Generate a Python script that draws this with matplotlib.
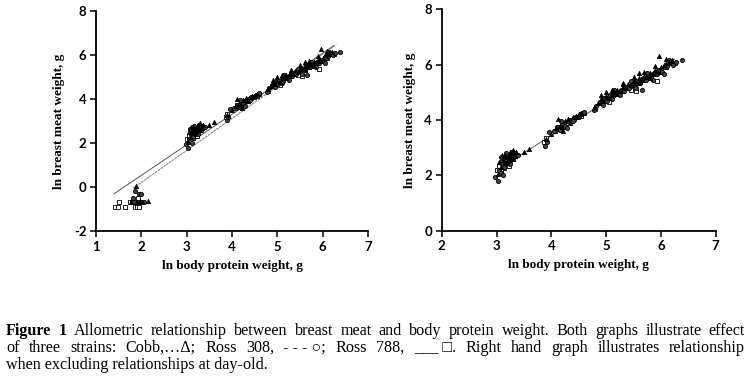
import matplotlib
matplotlib.use('Agg')
import matplotlib.pyplot as plt
from matplotlib.font_manager import FontProperties

# Cobb (triangles)
cobb_x = [1.78, 1.88, 1.90, 1.97, 2.02, 2.15,
          3.02, 3.08, 3.12, 3.15, 3.18, 3.22, 3.25, 3.28, 3.32, 3.35, 3.10, 3.20, 3.30,
          3.15, 3.25, 3.05, 3.30,
          3.50, 3.60, 3.90, 4.00,
          4.08, 4.12, 4.15, 4.20, 4.25, 4.30, 4.35, 4.40, 4.45, 4.50, 4.55, 4.22,
          4.80, 4.85, 4.90, 4.95, 5.00, 5.05, 5.10, 5.15, 5.20, 5.25, 5.30, 5.35, 5.40,
          5.45, 5.50, 5.55, 5.60, 5.65, 5.70, 5.75, 5.80, 5.85, 5.90, 5.95, 6.00, 6.05,
          6.10, 6.15, 6.20, 5.97, 5.60, 5.30, 5.00,
          4.90, 5.10, 5.30, 5.50, 5.70, 5.90, 6.10, 5.20, 5.60, 5.80]
cobb_y = [-0.70, 0.05, -0.70, -0.70, -0.70, -0.65,
          2.05, 2.30, 2.55, 2.45, 2.65, 2.70, 2.60, 2.80, 2.75, 2.85, 2.75, 2.50, 2.60,
          2.75, 2.85, 2.50, 2.90,
          2.85, 2.95, 3.30, 3.50,
          3.70, 4.02, 3.80, 3.75, 3.95, 4.05, 3.90, 4.10, 4.15, 4.20, 4.25, 3.60,
          4.45, 4.60, 4.75, 4.70, 4.85, 4.80, 4.95, 5.00, 5.10, 5.05, 5.20, 5.15, 5.30,
          5.25, 5.40, 5.35, 5.50, 5.45, 5.60, 5.55, 5.70, 5.65, 5.80, 5.75, 5.90, 6.00,
          6.05, 6.10, 6.15, 6.30, 5.70, 5.35, 5.00,
          4.90, 5.10, 5.30, 5.55, 5.75, 5.95, 6.20, 4.95, 5.35, 5.50]

# Ross 308 (circles)
r308_x = [1.82, 1.85, 1.95, 2.00, 1.88, 2.05, 1.83,
          2.98, 3.03, 3.05, 3.08, 3.10, 3.13, 3.15, 3.18, 3.20, 3.23, 3.27, 3.30, 3.33,
          3.36, 3.12, 3.25, 3.40, 3.17, 3.28, 3.08,
          3.88, 3.95, 3.92,
          4.05, 4.10, 4.15, 4.20, 4.25, 4.30, 4.35, 4.40, 4.45, 4.50, 4.55, 4.60, 4.28, 4.18,
          4.78, 4.82, 4.88, 4.92, 4.97, 5.02, 5.07, 5.12, 5.17, 5.22, 5.27, 5.32, 5.37,
          5.42, 5.47, 5.52, 5.57, 5.62, 5.67, 5.72, 5.77, 5.82, 5.87, 5.92, 5.97, 6.02,
          6.07, 6.12, 6.17, 6.22, 6.27, 6.38, 5.65, 5.10,
          4.95, 5.25, 5.55, 5.85, 6.05, 5.15, 5.45, 5.75, 6.15, 4.60]
r308_y = [-0.50, -0.20, -0.30, -0.30, -0.70, -0.70, -0.70,
          1.95, 1.80, 2.20, 2.10, 2.40, 2.30, 2.60, 2.40, 2.70, 2.55, 2.70, 2.65, 2.80,
          2.70, 2.00, 2.40, 2.75, 2.80, 2.85, 2.65,
          3.05, 3.55, 3.20,
          3.60, 3.75, 3.65, 3.85, 3.80, 3.95, 4.00, 3.95, 4.10, 4.15, 4.20, 4.25, 3.70, 3.95,
          4.35, 4.50, 4.65, 4.60, 4.80, 4.70, 4.90, 4.85, 5.00, 4.95, 5.10, 5.05, 5.20,
          5.15, 5.30, 5.25, 5.40, 5.35, 5.50, 5.45, 5.60, 5.55, 5.70, 5.65, 5.80, 5.75,
          5.90, 5.95, 6.05, 6.00, 6.10, 6.15, 5.10, 4.75,
          4.55, 4.90, 5.15, 5.45, 5.65, 5.10, 5.40, 5.70, 6.15, 4.30]

# Ross 788 (squares)
r788_x = [1.42, 1.48, 1.50, 1.65, 1.75, 1.85, 1.90, 1.95, 1.92, 1.95, 1.80, 2.00,
          3.00, 3.05, 3.10, 3.14, 3.17, 3.20, 3.24, 3.28, 3.31, 3.34, 3.08, 3.22,
          3.87, 3.90,
          4.06, 4.12, 4.18, 4.24, 4.30, 4.36, 4.42, 4.48, 4.55, 4.60,
          4.80, 4.90, 5.00, 5.10, 5.20, 5.30, 5.40, 5.50, 5.60, 5.70, 5.80, 5.90, 6.00,
          6.10, 6.20, 5.93, 5.55, 6.25, 5.05, 5.45]
r788_y = [-0.90, -0.90, -0.70, -0.90, -0.70, -0.90, -0.90, -0.90, -0.50, -0.70, -0.70, -0.70,
          2.20, 2.35, 2.50, 2.25, 2.40, 2.60, 2.55, 2.65, 2.60, 2.70, 2.15, 2.35,
          3.20, 3.35,
          3.60, 3.75, 3.75, 3.85, 3.90, 3.95, 4.05, 4.10, 4.15, 4.25,
          4.40, 4.60, 4.75, 4.85, 4.95, 5.05, 5.15, 5.25, 5.35, 5.45, 5.55, 5.65, 5.75,
          5.90, 6.05, 5.40, 5.05, 6.05, 4.65, 5.10]

# regression lines (end points)
left_solid_x = [1.40, 6.25]
left_solid_y = [-0.30, 6.45]
left_dash_x = [1.82, 6.30]
left_dash_y = [-0.05, 6.50]
left_dot_x = [1.86, 6.25]
left_dot_y = [0.00, 6.40]
right_line_x = [3.00, 6.25]
right_line_y = [2.20, 6.20]

left_xticks = [1, 2, 3, 4, 5, 6, 7]
left_yticks = [-2, 0, 2, 4, 6, 8]
right_xticks = [2, 3, 4, 5, 6, 7]
right_yticks = [0, 2, 4, 6, 8]

caption_lines = [
    [('Figure', True), ('1', True)] + [(w, False) for w in
        'Allometric relationship between breast meat and body protein weight.  '
        'Both graphs illustrate effect'.split()],
    [(w, False) for w in
        ['of', 'three', 'strains:', 'Cobb,\u2026\u0394;', 'Ross', '308,', '- - - \u25cb;',
         'Ross', '788,', '___ \u25a1.', 'Right', 'hand', 'graph', 'illustrates',
         'relationship']],
    'when excluding relationships at day-old.',
]

tick_fp = FontProperties(family='Lato', weight='bold', size=9.5)
label_font = dict(family='Liberation Serif', weight='bold', size=9.5)


def draw(ax, min_x, xt, yt):
    sets = [(r788_x, r788_y, 's', 'white'),
            (r308_x, r308_y, 'o', '#444444'),
            (cobb_x, cobb_y, '^', 'black')]
    for xs, ys, m, fc in sets:
        px = [x for x in xs if x > min_x]
        py = [y for x, y in zip(xs, ys) if x > min_x]
        ax.scatter(px, py, marker=m, s=9, facecolor=fc, edgecolor='black',
                   linewidths=0.6, zorder=3)
    for sp in ['top', 'right']:
        ax.spines[sp].set_visible(False)
    for sp in ['left', 'bottom']:
        ax.spines[sp].set_linewidth(1.3)
    ax.tick_params(direction='out', length=4, width=1.1, pad=3)
    ax.set_xticks(xt, [str(v) for v in xt], fontproperties=tick_fp)
    ax.set_yticks(yt, [str(v) for v in yt], fontproperties=tick_fp)
    ax.set_xlabel('ln body protein weight, g', fontdict=label_font, labelpad=5)
    ax.set_ylabel('ln breast meat weight, g', fontdict=label_font, labelpad=6)


fig = plt.figure(figsize=(7.47, 3.81), dpi=100)

ax1 = fig.add_axes([96 / 747, 1 - 231 / 381, 272 / 747, 219.5 / 381])
ax1.set_xlim(1, 7)
ax1.set_ylim(-2, 8)
ax1.plot(left_solid_x, left_solid_y, color='#555555', lw=0.7, zorder=2)
ax1.plot(left_dash_x, left_dash_y, color='#777777', lw=0.7, ls=(0, (2, 1.5)), zorder=2)
ax1.plot(left_dot_x, left_dot_y, color='#888888', lw=0.7, ls=(0, (0.8, 1)), zorder=2)
draw(ax1, 0, left_xticks, left_yticks)

ax2 = fig.add_axes([441.7 / 747, 1 - 230.7 / 381, 274 / 747, 221.4 / 381])
ax2.set_xlim(2, 7)
ax2.set_ylim(0, 8)
ax2.plot(right_line_x, right_line_y, color='#555555', lw=0.7, zorder=2)
draw(ax2, 2.5, right_xticks, right_yticks)

# caption, justified between x0 and x1 (pixels)
cap = dict(family='Liberation Serif', size=11.6, va='center')
x0, x1 = 6, 745
line_y = [331, 348, 365]
renderer = fig.canvas.get_renderer()
for line, yp in zip(caption_lines, line_y):
    if isinstance(line, str):
        fig.text(x0 / 747, 1 - yp / 381, line, **cap)
        continue
    texts = [fig.text(0, 1 - yp / 381, w, weight='bold' if b else 'normal', **cap)
             for w, b in line]
    widths = [t.get_window_extent(renderer).width for t in texts]
    gap = (x1 - x0 - sum(widths)) / (len(texts) - 1)
    x = x0
    for t, w in zip(texts, widths):
        t.set_x(x / 747)
        x += w + gap

fig.savefig('out.png', dpi=100)
